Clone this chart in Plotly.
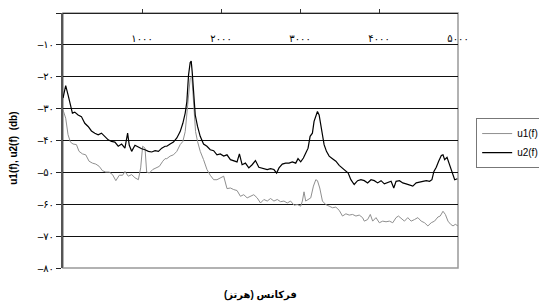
import plotly.graph_objects as go

# ---- data ----
freq_u2 = [0, 34, 64, 94, 119, 149, 191, 233, 276, 318, 360, 403, 445, 487, 530, 572, 614, 657, 699, 742,
           784, 818, 839, 869, 911, 954, 996, 1038, 1081, 1123, 1166, 1208, 1250, 1292, 1314, 1356, 1398,
           1441, 1483, 1517, 1547, 1568, 1589, 1610, 1623, 1635, 1652, 1674, 1703, 1737, 1779, 1822, 1864,
           1907, 1949, 1991, 2034, 2076, 2119, 2161, 2203, 2233, 2267, 2309, 2352, 2394, 2436, 2479, 2521,
           2564, 2585, 2627, 2670, 2704, 2734, 2776, 2818, 2861, 2903, 2946, 2975, 3009, 3043, 3073, 3102,
           3128, 3157, 3178, 3200, 3221, 3242, 3263, 3284, 3305, 3335, 3369, 3411, 3454, 3496, 3538, 3581,
           3610, 3644, 3686, 3729, 3771, 3814, 3856, 3899, 3941, 3983, 4026, 4068, 4111, 4153, 4187, 4216,
           4259, 4301, 4343, 4386, 4428, 4471, 4513, 4555, 4598, 4640, 4670, 4695, 4725, 4755, 4789, 4810,
           4831, 4861, 4895, 4924, 4958, 4992]
u2 = [-26.7, -22.8, -25.7, -29.3, -31.4, -31.1, -32.0, -32.5, -34.6, -35.6, -37.0, -37.7, -38.2, -37.7,
      -38.7, -39.8, -40.3, -40.5, -41.8, -41.1, -42.4, -37.7, -41.5, -43.4, -41.5, -42.2, -42.6, -42.9,
      -43.4, -43.6, -43.2, -43.4, -42.4, -41.8, -41.8, -41.1, -40.5, -39.2, -37.2, -34.6, -31.4, -27.8,
      -19.5, -15.5, -15.1, -18.4, -25.7, -32.0, -35.6, -38.7, -41.1, -41.8, -42.9, -43.2, -44.5, -44.2,
      -44.9, -44.5, -46.0, -46.3, -46.7, -44.2, -47.6, -47.1, -48.6, -47.6, -46.3, -48.4, -48.6, -48.8,
      -49.1, -48.8, -49.1, -50.2, -48.6, -47.4, -47.1, -47.1, -46.7, -47.1, -45.7, -46.7, -45.5, -43.9,
      -42.4, -38.7, -37.7, -34.0, -32.0, -30.9, -32.0, -35.1, -38.7, -41.3, -43.4, -44.9, -45.7, -46.5,
      -47.8, -48.6, -49.7, -50.2, -52.3, -53.8, -52.6, -52.3, -52.6, -53.3, -52.3, -52.6, -53.3, -52.6,
      -53.6, -53.3, -52.8, -54.9, -52.8, -52.6, -53.3, -53.6, -54.0, -54.3, -53.3, -53.0, -52.8, -52.6,
      -52.8, -52.3, -49.7, -48.4, -46.5, -44.7, -44.5, -46.0, -45.3, -47.6, -49.7, -52.3, -52.0]

freq_u1 = [0, 34, 64, 94, 127, 170, 203, 246, 288, 330, 373, 415, 458, 500, 542, 585, 627, 669, 712, 754,
           784, 826, 869, 911, 954, 983, 1008, 1038, 1059, 1093, 1136, 1178, 1220, 1263, 1292, 1314, 1356,
           1398, 1441, 1483, 1517, 1547, 1568, 1589, 1610, 1631, 1652, 1678, 1703, 1737, 1779, 1822, 1864,
           1907, 1949, 1991, 2034, 2076, 2119, 2161, 2203, 2246, 2288, 2331, 2373, 2415, 2458, 2500, 2543,
           2585, 2627, 2670, 2712, 2754, 2797, 2839, 2881, 2924, 2966, 3009, 3030, 3051, 3072, 3102, 3136,
           3170, 3200, 3221, 3250, 3284, 3326, 3369, 3411, 3454, 3496, 3538, 3581, 3623, 3665, 3708, 3750,
           3792, 3814, 3856, 3890, 3920, 3962, 4004, 4047, 4089, 4132, 4174, 4216, 4246, 4280, 4322, 4364,
           4407, 4449, 4492, 4534, 4576, 4619, 4661, 4703, 4746, 4775, 4810, 4840, 4873, 4907, 4937, 4966,
           5000]
u1 = [-30.4, -33.0, -38.2, -40.5, -41.1, -41.3, -43.4, -44.2, -44.5, -46.5, -47.1, -47.4, -48.1, -49.5,
      -49.9, -49.9, -50.7, -52.6, -50.9, -50.9, -49.7, -51.2, -50.7, -51.7, -52.3, -48.6, -41.8, -42.4,
      -49.9, -50.2, -49.1, -48.6, -48.1, -46.5, -45.7, -45.7, -44.9, -44.5, -43.4, -41.3, -40.3, -37.2,
      -32.0, -25.7, -20.5, -20.0, -28.8, -37.2, -40.3, -43.4, -46.0, -49.1, -50.9, -52.3, -52.3, -51.7,
      -51.2, -55.1, -54.9, -55.4, -55.7, -57.5, -57.0, -58.0, -57.5, -57.0, -58.0, -59.6, -58.5, -59.0,
      -58.2, -59.0, -58.5, -59.2, -59.0, -59.6, -59.0, -60.3, -60.1, -60.6, -59.0, -56.1, -59.0, -58.5,
      -58.0, -54.3, -52.3, -52.6, -54.9, -59.0, -60.1, -60.6, -61.1, -60.9, -61.9, -63.7, -63.0, -63.4,
      -63.2, -63.7, -63.4, -64.2, -65.3, -64.8, -63.2, -65.3, -64.2, -65.8, -65.3, -65.5, -65.3, -65.8,
      -64.2, -63.7, -64.5, -65.3, -64.2, -65.3, -64.8, -64.2, -65.3, -65.8, -66.8, -65.8, -65.3, -64.0,
      -63.7, -62.2, -63.2, -65.3, -66.3, -66.8, -66.3, -66.8]

x_tickvals = [1000, 2000, 3000, 4000, 5000]
x_ticktext = ["۱۰۰۰", "۲۰۰۰", "۳۰۰۰", "۴۰۰۰", "۵۰۰۰"]
y_tickvals = [0, -10, -20, -30, -40, -50, -60, -70, -80]
y_ticktext = ["۰", "–۱۰", "–۲۰", "–۳۰", "–۴۰", "–۵۰", "–۶۰", "–۷۰", "–۸۰"]

FONT = "Arial, Liberation Sans, DejaVu Sans, sans-serif"

fig = go.Figure()
fig.add_trace(go.Scatter(x=freq_u1, y=u1, mode="lines", name="u1(f)",
                         line=dict(color="#8f8f8f", width=1)))
fig.add_trace(go.Scatter(x=freq_u2, y=u2, mode="lines", name="u2(f)",
                         line=dict(color="#000000", width=1.2)))

# the page body adds an 8px offset; margins compensate so the plot lands where the reference has it
fig.update_layout(
    width=547, height=306,
    margin=dict(l=55, r=97, t=5, b=46, autoexpand=False),
    paper_bgcolor="white", plot_bgcolor="white",
    font=dict(family=FONT, size=10, color="black"),
    showlegend=True,
    legend=dict(x=1.046, y=0.588, xanchor="left", yanchor="top",
                bordercolor="#777777", borderwidth=1, bgcolor="white",
                font=dict(size=10), tracegroupgap=2, itemwidth=30),
    xaxis=dict(range=[0, 5000], tickvals=x_tickvals, ticktext=x_ticktext,
               anchor="free", position=1, side="bottom", automargin=False,
               ticks="inside", ticklen=4, tickcolor="#333333",
               showline=True, linecolor="#222222", linewidth=1,
               showgrid=False, zeroline=False, ticklabelstandoff=16,
               tickfont=dict(size=10)),
    yaxis=dict(range=[-80, 0], tickvals=y_tickvals, ticktext=y_ticktext,
               automargin=False,
               ticks="outside", ticklen=5, tickcolor="#222222",
               showline=True, linecolor="#555555", linewidth=2,
               showgrid=True, gridcolor="#111111", gridwidth=1,
               zeroline=False, tickfont=dict(size=10)),
    shapes=[dict(type="rect", xref="paper", yref="paper", x0=0, x1=1, y0=0, y1=1,
                 line=dict(color="#999999", width=1.5), layer="below")],
    annotations=[
        dict(text="<b>فرکانس (هرتز)</b>", xref="paper", yref="paper", x=0.5, y=-0.105,
             xanchor="center", yanchor="middle", showarrow=False, font=dict(size=10)),
        dict(text="<b>u1(f), u2(f)  (db)</b>", xref="paper", yref="paper", x=-0.125, y=0.47,
             xanchor="center", yanchor="middle", textangle=-90, showarrow=False,
             font=dict(size=10)),
    ],
)

fig.write_html("out.html")
